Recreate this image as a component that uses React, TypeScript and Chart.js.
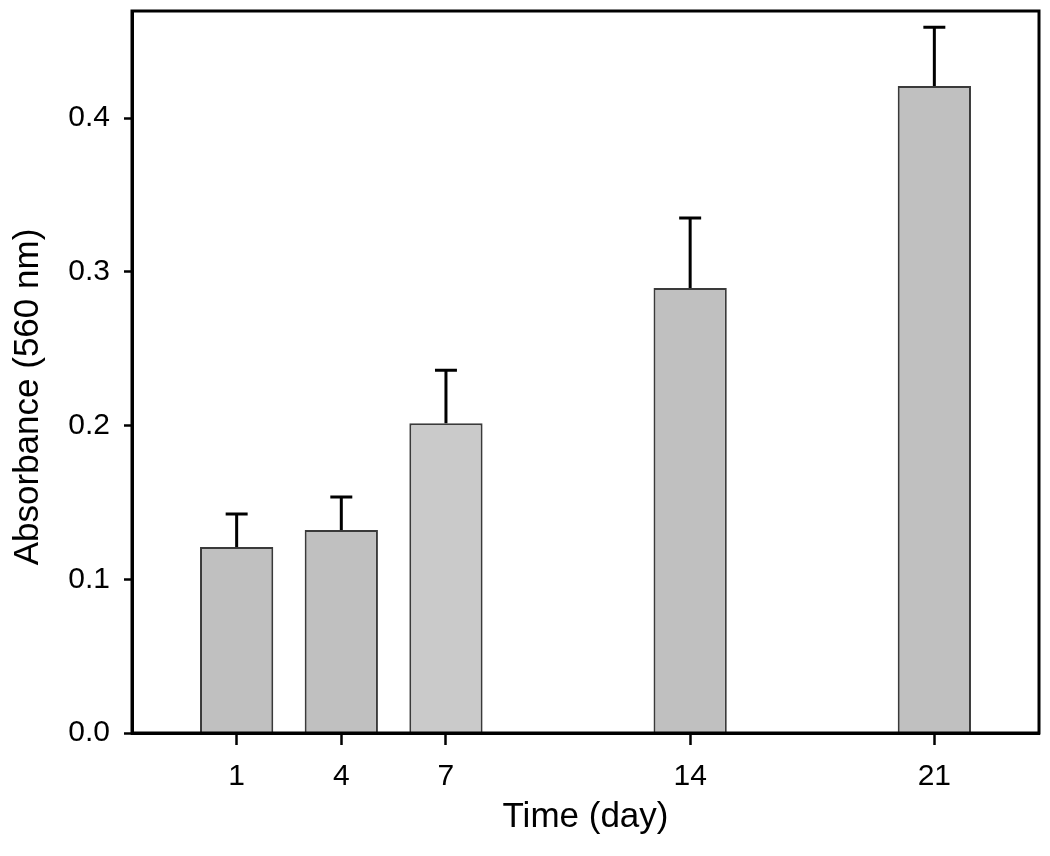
import React, { useEffect, useRef } from "react";
import { Chart, registerables } from "chart.js";

Chart.register(...registerables);

const days = [1, 4, 7, 14, 21];
const absorbance = [0.121, 0.132, 0.2015, 0.2894, 0.4208];
const errorTop = [0.1424, 0.1535, 0.236, 0.335, 0.459];
const barColors = ["#c0c0c0", "#c0c0c0", "#cacaca", "#c0c0c0", "#c0c0c0"];
const xTicks = [1, 4, 7, 14, 21];
const yTicks = [0, 0.1, 0.2, 0.3, 0.4];
const xTitle = "Time (day)";
const yTitle = "Absorbance (560 nm)";

const FONT = "'Liberation Sans', Arial, sans-serif";

const errorBarPlugin = {
  id: "errorBars",
  afterDatasetsDraw(chart: any) {
    const { ctx, scales } = chart;
    const meta = chart.getDatasetMeta(0);
    ctx.save();
    ctx.strokeStyle = "#000";
    ctx.lineWidth = 3;
    meta.data.forEach((bar: any, i: number) => {
      const x = scales.x.getPixelForValue(days[i]);
      const y0 = scales.y.getPixelForValue(absorbance[i]);
      const y1 = scales.y.getPixelForValue(errorTop[i]);
      const half = bar.width * 0.15;
      ctx.beginPath();
      ctx.moveTo(x, y0);
      ctx.lineTo(x, y1);
      ctx.moveTo(x - half, y1);
      ctx.lineTo(x + half, y1);
      ctx.stroke();
    });
    ctx.restore();
  },
};

const framePlugin = {
  id: "frame",
  afterDraw(chart: any) {
    const { ctx, chartArea } = chart;
    ctx.save();
    ctx.strokeStyle = "#000";
    ctx.lineWidth = 3;
    ctx.strokeRect(
      chartArea.left,
      chartArea.top,
      chartArea.right - chartArea.left,
      chartArea.bottom - chartArea.top
    );
    // y axis title
    ctx.fillStyle = "#000";
    ctx.font = `35px ${FONT}`;
    ctx.textAlign = "center";
    ctx.textBaseline = "middle";
    ctx.translate(28, (chartArea.top + chartArea.bottom) / 2 + 25);
    ctx.rotate(-Math.PI / 2);
    ctx.fillText(yTitle, 0, 0);
    ctx.restore();
  },
};

export default function App() {
  const ref = useRef<HTMLCanvasElement>(null);

  useEffect(() => {
    if (!ref.current) return;
    const chart = new Chart(ref.current, {
      type: "bar",
      data: {
        datasets: [
          {
            data: days.map((d, i) => ({ x: d, y: absorbance[i] })),
            backgroundColor: barColors,
            borderColor: "#3a3a3a",
            borderWidth: 2,
            categoryPercentage: 0.8,
            barPercentage: 0.875,
          },
        ],
      },
      options: {
        responsive: false,
        animation: false,
        events: [],
        layout: { padding: { top: 11, right: 11, left: 0, bottom: 0 } },
        plugins: {
          legend: { display: false },
          tooltip: { enabled: false },
        },
        scales: {
          x: {
            type: "linear",
            min: -2,
            max: 24,
            offset: false,
            afterBuildTicks: (scale: any) => {
              scale.ticks = xTicks.map((v) => ({ value: v }));
            },
            afterFit: (scale: any) => {
              scale.height = 123;
              scale.paddingLeft = 0;
              scale.paddingRight = 0;
            },
            grid: {
              offset: false,
              drawOnChartArea: false,
              drawTicks: true,
              tickLength: 12,
              tickWidth: 2.5,
              tickColor: "#000",
            },
            border: { display: true, color: "#000", width: 3 },
            ticks: {
              autoSkip: false,
              maxRotation: 0,
              padding: 14,
              color: "#000",
              font: { family: FONT, size: 30 },
              callback: (v: any) => String(v),
            },
            title: {
              display: true,
              text: xTitle,
              color: "#000",
              font: { family: FONT, size: 35 },
              padding: { top: 0, bottom: 18 },
            },
          },
          y: {
            type: "linear",
            min: 0,
            max: 0.4696,
            afterBuildTicks: (scale: any) => {
              scale.ticks = yTicks.map((v) => ({ value: v }));
            },
            afterFit: (scale: any) => {
              scale.width = 132;
              scale.paddingTop = 0;
              scale.paddingBottom = 0;
            },
            grid: {
              drawOnChartArea: false,
              drawTicks: true,
              tickLength: 8,
              tickWidth: 2.5,
              tickColor: "#000",
            },
            border: { display: true, color: "#000", width: 3 },
            ticks: {
              padding: 14,
              color: "#000",
              font: { family: FONT, size: 30 },
              callback: (v: any) => Number(v).toFixed(1),
            },
          },
        },
      },
      plugins: [errorBarPlugin, framePlugin],
    });
    return () => chart.destroy();
  }, []);

  return (
    <div style={{ position: "absolute", left: 0, top: 0, width: 1050, height: 856, background: "#fff" }}>
      <canvas ref={ref} width={1050} height={856} style={{ display: "block" }} />
    </div>
  );
}
